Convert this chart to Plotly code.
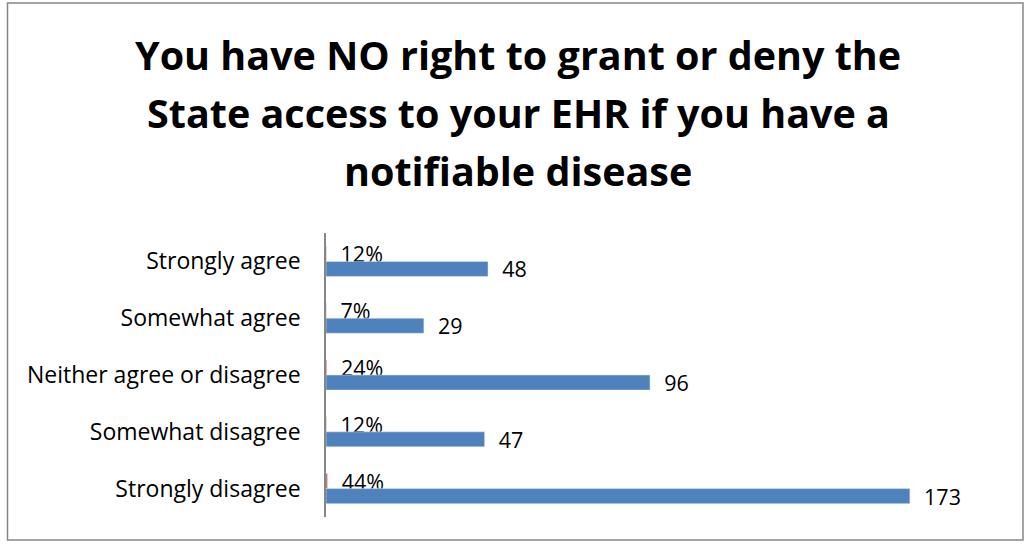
import plotly.graph_objects as go

answers = ['Strongly agree', 'Somewhat agree', 'Neither agree or disagree',
           'Somewhat disagree', 'Strongly disagree']
share = [0.12, 0.07, 0.24, 0.12, 0.44]
counts = [48, 29, 96, 47, 173]

title_lines = ['You have NO right to grant or deny the',
               'State access to your EHR if you have a',
               'notifiable disease']

W, H = 1026, 544
L, R, T, B = 326, 25, 233, 27
pw, ph = W - L - R, H - T - B

gap = '\u00a0\u00a0'

fig = go.Figure()
# the percentage series sits on the count scale, so its bars are only slivers
fig.add_trace(go.Bar(y=answers, x=share, orientation='h', name='%',
                     marker_color='#C0504D',
                     text=[gap + f'{v:.0%}' for v in share]))
fig.add_trace(go.Bar(y=answers, x=counts, orientation='h', name='Count',
                     marker_color='#4F81BD',
                     text=[gap + str(v) for v in counts]))

fig.update_traces(textposition='outside', cliponaxis=False,
                  constraintext='none',
                  textfont=dict(size=21.5, color='black', family='Open Sans'))

fig.update_layout(
    width=W, height=H,
    barmode='group', bargap=0.47, bargroupgap=0,
    showlegend=False,
    plot_bgcolor='white', paper_bgcolor='white',
    font=dict(family='Open Sans', color='black'),
    margin=dict(l=L, r=R, t=T, b=B, pad=0),
    xaxis=dict(range=[0, 200], showgrid=False, showticklabels=False,
               zeroline=False, showline=False, ticks=''),
    yaxis=dict(autorange='reversed', showgrid=False, showline=True,
               linecolor='#868686', linewidth=1.5, ticks='',
               ticklabelstandoff=19, tickfont=dict(size=23)),
)

# title, one annotation per line so the spacing follows the original
for i, line in enumerate(title_lines):
    yc = 55 + 58 * i
    fig.add_annotation(text=line, xref='paper', yref='paper',
                       x=(518 - L) / pw, y=(H - B - yc) / ph,
                       xanchor='center', yanchor='middle', showarrow=False,
                       font=dict(size=39.5, family='Open Sans', color='black',
                                 weight='bold'))

# outer chart border
fig.add_shape(type='rect', xref='paper', yref='paper',
              x0=(7.5 - L) / pw, x1=(1023 - L) / pw,
              y0=(H - B - 540) / ph, y1=(H - B - 3) / ph,
              line=dict(color='#868686', width=1.5), fillcolor='rgba(0,0,0,0)')

fig.write_html('out.html', config={'displayModeBar': False},
               post_script="document.body.style.margin='0';")
